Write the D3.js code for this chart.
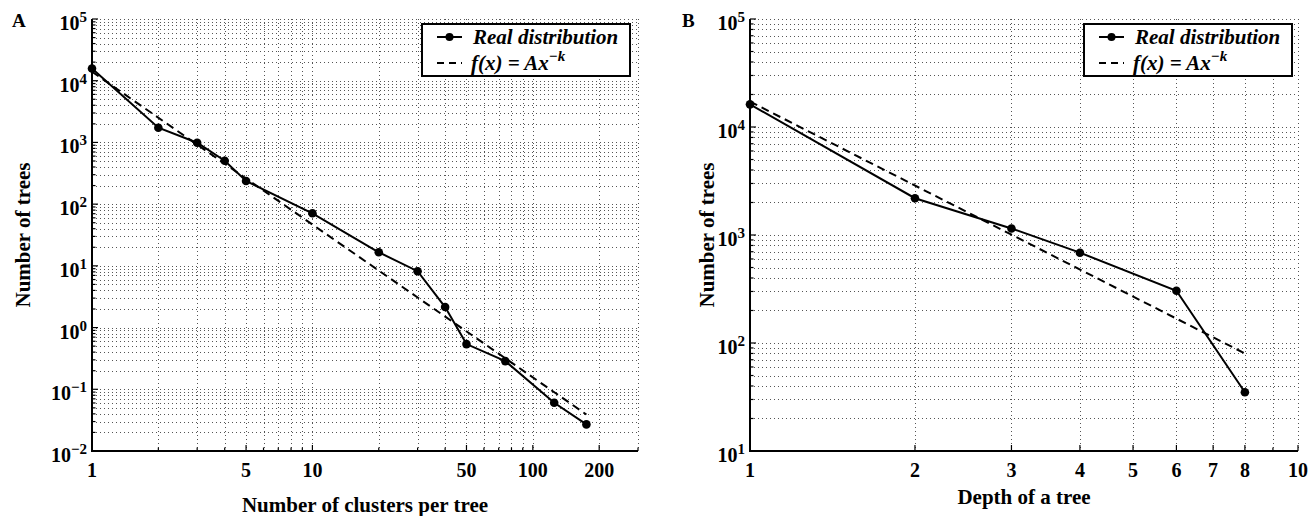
<!DOCTYPE html>
<html>
<head>
<meta charset="utf-8">
<script src="https://cdn.jsdelivr.net/npm/d3@7"></script>
<style>
  body { margin: 0; background: #fff; }
  svg { display: block; font-family: "Liberation Serif", "Times New Roman", serif; }
</style>
</head>
<body>
<svg width="1310" height="516"></svg>
<script>
// panel A: cluster counts per tree
const clustersX = [1, 2, 3, 4, 5, 10, 20, 30, 40, 50, 75, 125, 175];
const clustersY = [15800, 1730, 990, 505, 237, 71, 16.6, 8.2, 2.15, 0.54, 0.286, 0.0605, 0.027];
const clustersFitX = [1, 175];
const clustersFitY = [14000, 0.039];
const clustersXTicks = [1, 5, 10, 50, 100, 200];
const clustersYExp = [-2, -1, 0, 1, 2, 3, 4, 5];

// panel B: depth of tree
const depthX = [1, 2, 3, 4, 6, 8];
const depthY = [16200, 2190, 1150, 686, 305, 35];
const depthFitX = [1, 8];
const depthFitY = [17200, 80];
const depthXTicks = [1, 2, 3, 4, 5, 6, 7, 8, 10];
const depthYExp = [1, 2, 3, 4, 5];

const svg = d3.select("svg");

// every 1..9 * 10^k between lo and hi
function logSteps(lo, hi) {
    const out = [];
    for (let e = Math.floor(Math.log10(lo)); e <= Math.ceil(Math.log10(hi)); e++) {
        for (let m = 1; m < 10; m++) {
            const v = m * Math.pow(10, e);
            if (v >= lo * 0.999 && v <= hi * 1.001) out.push(+v.toPrecision(6));
        }
    }
    return out;
}

function drawPanel(p) {
    const x = d3.scaleLog().domain(p.xDomain).range([p.left, p.right]);
    const y = d3.scaleLog().domain(p.yDomain).range([p.bottom, p.top]);
    const g = svg.append("g");

    // dotted grid
    const grid = g.append("g")
        .attr("stroke", "#555")
        .attr("stroke-width", 1)
        .attr("stroke-dasharray", "1,3");
    grid.selectAll(".gx")
        .data(logSteps(p.xDomain[0], p.xDomain[1]).filter(v => v > p.xDomain[0]))
        .enter().append("line")
        .attr("x1", d => Math.round(x(d)) + 0.5).attr("x2", d => Math.round(x(d)) + 0.5)
        .attr("y1", p.top).attr("y2", p.bottom);
    grid.selectAll(".gy")
        .data(logSteps(p.yDomain[0], p.yDomain[1]).filter(v => v > p.yDomain[0]))
        .enter().append("line")
        .attr("y1", d => Math.round(y(d)) + 0.5).attr("y2", d => Math.round(y(d)) + 0.5)
        .attr("x1", p.left).attr("x2", p.right);

    // inward ticks
    const ticks = g.append("g").attr("stroke", "#000").attr("stroke-width", 1.2);
    logSteps(p.xDomain[0], p.xDomain[1]).forEach(v => {
        const len = p.xTicks.includes(v) ? 6 : 3.5;
        ticks.append("line")
            .attr("x1", x(v)).attr("x2", x(v))
            .attr("y1", p.bottom).attr("y2", p.bottom - len);
    });
    logSteps(p.yDomain[0], p.yDomain[1]).forEach(v => {
        const major = Math.abs(Math.log10(v) - Math.round(Math.log10(v))) < 1e-9;
        ticks.append("line")
            .attr("y1", y(v)).attr("y2", y(v))
            .attr("x1", p.left).attr("x2", p.left + (major ? 6 : 3.5));
    });

    // axis lines
    g.append("path")
        .attr("d", `M${p.left},${p.top}V${p.bottom}H${p.right}`)
        .attr("fill", "none").attr("stroke", "#000").attr("stroke-width", 2);

    // tick labels
    g.selectAll(".xl").data(p.xTicks).enter().append("text")
        .attr("x", d => x(d)).attr("y", p.bottom + 26)
        .attr("text-anchor", "middle")
        .attr("font-size", 20).attr("font-weight", "bold")
        .text(d => d);
    const yl = g.selectAll(".yl").data(p.yExp).enter().append("text")
        .attr("x", p.left - 5).attr("y", d => y(Math.pow(10, d)) + 11)
        .attr("text-anchor", "end")
        .attr("font-size", 20).attr("font-weight", "bold");
    yl.append("tspan").text("10");
    yl.append("tspan").attr("dy", -8).attr("font-size", 15)
        .text(d => String(d).replace("-", "\u2212"));

    // axis titles
    g.append("text")
        .attr("x", (p.left + p.right) / 2).attr("y", p.xTitleY)
        .attr("text-anchor", "middle")
        .attr("font-size", 21).attr("font-weight", "bold")
        .text(p.xTitle);
    g.append("text")
        .attr("transform", `translate(${p.yTitleX},${(p.top + p.bottom) / 2}) rotate(-90)`)
        .attr("text-anchor", "middle")
        .attr("font-size", 21).attr("font-weight", "bold")
        .text(p.yTitle);

    // panel letter
    g.append("text")
        .attr("x", p.letterX).attr("y", 27)
        .attr("font-size", 19).attr("font-weight", "bold")
        .text(p.letter);

    // fit line
    const line = d3.line().x(d => x(d[0])).y(d => y(d[1]));
    g.append("path")
        .datum(d3.zip(p.fitX, p.fitY))
        .attr("d", line)
        .attr("fill", "none").attr("stroke", "#000").attr("stroke-width", 2)
        .attr("stroke-dasharray", "8,5");

    // real distribution
    const pts = d3.zip(p.dataX, p.dataY);
    g.append("path")
        .datum(pts)
        .attr("d", line)
        .attr("fill", "none").attr("stroke", "#000").attr("stroke-width", 2);
    g.selectAll(".pt").data(pts).enter().append("circle")
        .attr("cx", d => x(d[0])).attr("cy", d => y(d[1]))
        .attr("r", 4.3).attr("fill", "#000");

    // legend
    const lx = p.right - p.legendInset - 208, ly = 24;
    const lg = g.append("g").attr("transform", `translate(${lx},${ly})`);
    lg.append("rect")
        .attr("width", 208).attr("height", 52)
        .attr("fill", "#fff").attr("stroke", "#000").attr("stroke-width", 2);
    lg.append("line")
        .attr("x1", 15).attr("x2", 40).attr("y1", 13).attr("y2", 13)
        .attr("stroke", "#000").attr("stroke-width", 2);
    lg.append("circle").attr("cx", 27.5).attr("cy", 13).attr("r", 4).attr("fill", "#000");
    lg.append("line")
        .attr("x1", 15).attr("x2", 40).attr("y1", 39).attr("y2", 39)
        .attr("stroke", "#000").attr("stroke-width", 2)
        .attr("stroke-dasharray", "7,5");
    lg.append("text")
        .attr("x", 51).attr("y", 20)
        .attr("font-size", 21).attr("font-weight", "bold").attr("font-style", "italic")
        .text("Real distribution");
    const f = lg.append("text")
        .attr("x", 49).attr("y", 46)
        .attr("font-size", 21).attr("font-weight", "bold").attr("font-style", "italic");
    f.append("tspan").text("f(x) = Ax");
    f.append("tspan").attr("dy", -9).attr("font-size", 15).text("\u2212k");
}

drawPanel({
    letter: "A", letterX: 12,
    left: 92, right: 638, top: 19, bottom: 451,
    xDomain: [1, 300], yDomain: [1e-2, 1e5],
    xTicks: clustersXTicks, yExp: clustersYExp,
    dataX: clustersX, dataY: clustersY,
    fitX: clustersFitX, fitY: clustersFitY,
    xTitle: "Number of clusters per tree", xTitleY: 512,
    yTitle: "Number of trees", yTitleX: 30,
    legendInset: 8
});

drawPanel({
    letter: "B", letterX: 682,
    left: 750, right: 1298, top: 19, bottom: 451,
    xDomain: [1, 10], yDomain: [1e1, 1e5],
    xTicks: depthXTicks, yExp: depthYExp,
    dataX: depthX, dataY: depthY,
    fitX: depthFitX, fitY: depthFitY,
    xTitle: "Depth of a tree", xTitleY: 504,
    yTitle: "Number of trees", yTitleX: 714,
    legendInset: 6
});
</script>
</body>
</html>
